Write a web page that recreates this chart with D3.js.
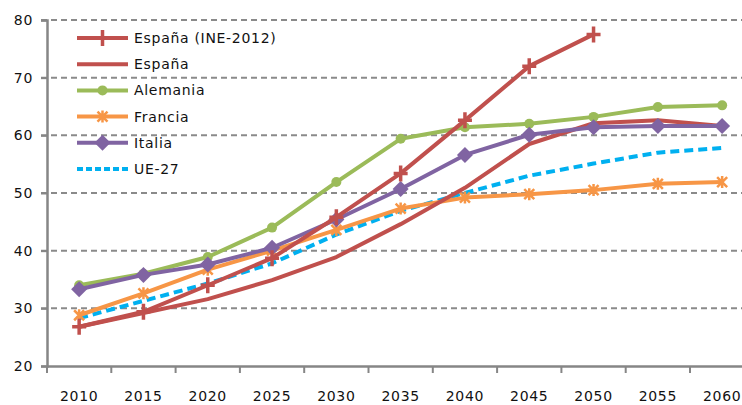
<!DOCTYPE html>
<html>
<head>
<meta charset="UTF-8">
<script src="https://d3js.org/d3.v7.min.js"></script>
<style>
  body { margin: 0; background: #fff; }
  text { font-family: "DejaVu Sans", Verdana, sans-serif; font-size: 14px; fill: #111; letter-spacing: 0.7px; }
</style>
</head>
<body>
<script>
var years = ["2010","2015","2020","2025","2030","2035","2040","2045","2050","2055","2060"];
var yTicks = [20, 30, 40, 50, 60, 70, 80];

var espanaINE = [26.8, 29.4, 34.0, 38.7, 45.8, 53.4, 62.6, 72.0, 77.5, null, null];
var espana    = [26.8, 29.2, 31.6, 34.9, 38.9, 44.6, 50.9, 58.5, 62.1, 62.6, 61.6];
var alemania  = [34.0, 36.0, 38.9, 44.0, 51.9, 59.4, 61.4, 62.0, 63.2, 64.9, 65.2];
var francia   = [28.8, 32.6, 36.7, 40.0, 43.6, 47.3, 49.2, 49.8, 50.5, 51.6, 51.9];
var italia    = [33.3, 35.8, 37.6, 40.5, 45.4, 50.7, 56.6, 60.1, 61.4, 61.6, 61.6];
var ue27      = [28.3, 31.3, 34.3, 37.8, 42.8, 46.9, 50.0, 53.0, 55.1, 57.0, 57.8];

var series = [
  {name: "España (INE-2012)", values: espanaINE, color: "#C0504D", marker: "plus"},
  {name: "España", values: espana, color: "#C0504D", marker: null},
  {name: "Alemania", values: alemania, color: "#9BBB59", marker: "circle"},
  {name: "Francia", values: francia, color: "#F79646", marker: "star"},
  {name: "Italia", values: italia, color: "#8064A2", marker: "diamond"},
  {name: "UE-27", values: ue27, color: "#00B0F0", marker: null, dash: "9,5"}
];

var W = 742, H = 405;
var svg = d3.select("body").append("svg").attr("width", W).attr("height", H);

var x = d3.scaleBand().domain(years).range([47, 47 + 11 * 64.3]).padding(0);
var y = d3.scaleLinear().domain([20, 80]).range([366, 20]);

// gridlines
svg.selectAll("line.grid").data(yTicks.slice(1)).enter().append("line")
  .attr("x1", 41).attr("x2", W)
  .attr("y1", function(d){ return y(d); }).attr("y2", function(d){ return y(d); })
  .attr("stroke", "#8a8a8a").attr("stroke-width", 2).attr("stroke-dasharray", "6,4");

// y axis
var yAxis = svg.append("g").attr("transform", "translate(47,0)")
  .call(d3.axisLeft(y).tickValues(yTicks).tickSize(6).tickPadding(8));
yAxis.select(".domain").attr("stroke", "#868686").attr("stroke-width", 2.5);
yAxis.selectAll(".tick line").attr("stroke", "#868686").attr("stroke-width", 2);
yAxis.selectAll("text").style("font-size", "14px").attr("fill", "#111");

// x axis
var xAxis = svg.append("g").attr("transform", "translate(0,366)")
  .call(d3.axisBottom(x).tickSize(0).tickPadding(25));
xAxis.select(".domain").attr("stroke", "#868686").attr("stroke-width", 2.5);
xAxis.selectAll("text").style("font-size", "14px").attr("fill", "#111");
svg.selectAll("line.xt").data(years).enter().append("line")
  .attr("x1", function(d){ return x(d); }).attr("x2", function(d){ return x(d); })
  .attr("y1", 366).attr("y2", 373)
  .attr("stroke", "#868686").attr("stroke-width", 2);

var cx = function(i){ return x(years[i]) + x.bandwidth() / 2; };
var line = d3.line()
  .defined(function(d){ return d != null; })
  .x(function(d, i){ return cx(i); })
  .y(function(d){ return y(d); });

function drawMarker(g, type, color, px, py) {
  if (type === "plus") {
    g.append("path").attr("d", "M" + (px-7) + "," + py + "h14M" + px + "," + (py-8) + "v16")
      .attr("stroke", color).attr("stroke-width", 3.5).attr("fill", "none");
  } else if (type === "circle") {
    g.append("circle").attr("cx", px).attr("cy", py).attr("r", 5).attr("fill", color);
  } else if (type === "diamond") {
    g.append("path").attr("d", "M" + px + "," + (py-8) + "L" + (px+8) + "," + py + "L" + px + "," + (py+8) + "L" + (px-8) + "," + py + "Z")
      .attr("fill", color);
  } else if (type === "star") {
    g.append("path").attr("d", "M" + (px-5) + "," + (py-5) + "L" + (px+5) + "," + (py+5) +
        "M" + (px+5) + "," + (py-5) + "L" + (px-5) + "," + (py+5) +
        "M" + px + "," + (py-6) + "v12")
      .attr("stroke", color).attr("stroke-width", 2.5).attr("fill", "none");
  }
}

// draw order: UE-27 back, then others
var order = [5, 3, 1, 2, 4, 0];
order.forEach(function(k) {
  var s = series[k];
  var g = svg.append("g");
  g.append("path").datum(s.values)
    .attr("d", line)
    .attr("fill", "none")
    .attr("stroke", s.color)
    .attr("stroke-width", 4)
    .attr("stroke-linejoin", "round")
    .attr("stroke-dasharray", s.dash || null);
  if (s.marker) {
    s.values.forEach(function(v, i) {
      if (v != null) drawMarker(g, s.marker, s.color, cx(i), y(v));
    });
  }
});

// legend
var leg = svg.append("g");
series.forEach(function(s, i) {
  var ly = 38 + i * 26.2;
  leg.append("line").attr("x1", 77).attr("x2", 128).attr("y1", ly).attr("y2", ly)
    .attr("stroke", s.color).attr("stroke-width", 4)
    .attr("stroke-dasharray", s.dash ? "6,3" : null);
  if (s.marker) drawMarker(leg, s.marker, s.color, 102.5, ly);
  leg.append("text").attr("x", 134).attr("y", ly + 5).text(s.name);
});
</script>
</body>
</html>
